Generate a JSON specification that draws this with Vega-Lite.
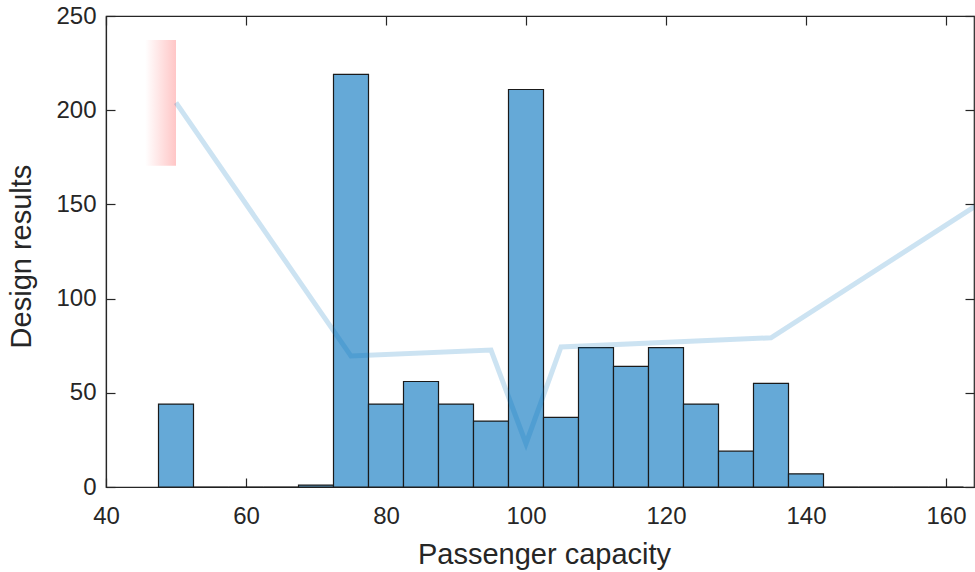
{
  "$schema": "https://vega.github.io/schema/vega-lite/v6.json",
  "autosize": "none",
  "width": 868,
  "height": 471,
  "padding": {"left": 106, "top": 16, "right": 1, "bottom": 85},
  "background": "white",
  "config": {
    "view": {"stroke": "#262626", "strokeWidth": 1.2},
    "font": "Liberation Sans",
    "axis": {
      "grid": false,
      "domainColor": "#262626",
      "domainWidth": 1.2,
      "tickColor": "#262626",
      "tickWidth": 1.2,
      "tickSize": -9,
      "labelColor": "#262626",
      "labelFontSize": 24,
      "labelFlush": false,
      "labelOverlap": false,
      "titleColor": "#262626",
      "titleFontSize": 29,
      "titleFontWeight": "normal",
      "labelFont": "Liberation Sans",
      "titleFont": "Liberation Sans"
    }
  },
  "datasets": {
    "bins": [
      {"lo": 47.5, "hi": 52.5, "count": 44},
      {"lo": 52.5, "hi": 57.5, "count": 0},
      {"lo": 57.5, "hi": 62.5, "count": 0},
      {"lo": 62.5, "hi": 67.5, "count": 0},
      {"lo": 67.5, "hi": 72.5, "count": 1},
      {"lo": 72.5, "hi": 77.5, "count": 219},
      {"lo": 77.5, "hi": 82.5, "count": 44},
      {"lo": 82.5, "hi": 87.5, "count": 56},
      {"lo": 87.5, "hi": 92.5, "count": 44},
      {"lo": 92.5, "hi": 97.5, "count": 35},
      {"lo": 97.5, "hi": 102.5, "count": 211},
      {"lo": 102.5, "hi": 107.5, "count": 37},
      {"lo": 107.5, "hi": 112.5, "count": 74},
      {"lo": 112.5, "hi": 117.5, "count": 64},
      {"lo": 117.5, "hi": 122.5, "count": 74},
      {"lo": 122.5, "hi": 127.5, "count": 44},
      {"lo": 127.5, "hi": 132.5, "count": 19},
      {"lo": 132.5, "hi": 137.5, "count": 55},
      {"lo": 137.5, "hi": 142.5, "count": 7},
      {"lo": 142.5, "hi": 147.5, "count": 0},
      {"lo": 147.5, "hi": 152.5, "count": 0},
      {"lo": 152.5, "hi": 157.5, "count": 0},
      {"lo": 157.5, "hi": 162.5, "count": 0}
    ],
    "trend": [
      {"capacity": 50, "value": 204},
      {"capacity": 75, "value": 69.5},
      {"capacity": 95, "value": 72.7},
      {"capacity": 100, "value": 23},
      {"capacity": 105, "value": 74.3},
      {"capacity": 135, "value": 79.2},
      {"capacity": 165, "value": 151}
    ],
    "patch": [
      {"x0": 45.6, "x1": 50, "y0": 170.5, "y1": 237.3}
    ]
  },
  "layer": [
    {
      "data": {"name": "patch"},
      "mark": {
        "type": "rect",
        "fill": {
          "gradient": "linear",
          "x1": 0, "y1": 0, "x2": 1, "y2": 0,
          "stops": [
            {"offset": 0, "color": "#ffffff"},
            {"offset": 1, "color": "#ffc6c6"}
          ]
        }
      },
      "encoding": {
        "x": {
          "field": "x0", "type": "quantitative",
          "scale": {"domain": [40, 164], "nice": false, "zero": false},
          "axis": {"orient": "bottom", "values": [40, 60, 80, 100, 120, 140, 160], "title": "Passenger capacity", "labelPadding": 26, "titlePadding": 12, "titleX": 438}
        },
        "x2": {"field": "x1"},
        "y": {
          "field": "y0", "type": "quantitative",
          "scale": {"domain": [0, 250], "nice": false},
          "axis": {"orient": "left", "values": [0, 50, 100, 150, 200, 250], "title": "Design results", "labelPadding": 19, "titlePadding": 19, "titleY": 240}
        },
        "y2": {"field": "y1"}
      }
    },
    {
      "data": {"name": "bins"},
      "mark": {"type": "rect", "fill": "#65a9d7", "stroke": "#1a1a1a", "strokeWidth": 1.2},
      "encoding": {
        "x": {"field": "lo", "type": "quantitative",
          "axis": {"orient": "top", "values": [40, 60, 80, 100, 120, 140, 160], "labels": false, "title": null, "domain": false}},
        "x2": {"field": "hi"},
        "y": {"field": "count", "type": "quantitative",
          "axis": {"orient": "right", "values": [0, 50, 100, 150, 200, 250], "labels": false, "title": null, "domain": false}},
        "y2": {"datum": 0}
      }
    },
    {
      "data": {"name": "trend"},
      "mark": {"type": "line", "color": "#0072bd", "opacity": 0.2, "strokeWidth": 5, "clip": true},
      "encoding": {
        "x": {"field": "capacity", "type": "quantitative", "axis": null},
        "y": {"field": "value", "type": "quantitative", "axis": null}
      }
    }
  ],
  "resolve": {"axis": {"x": "independent", "y": "independent"}}
}
